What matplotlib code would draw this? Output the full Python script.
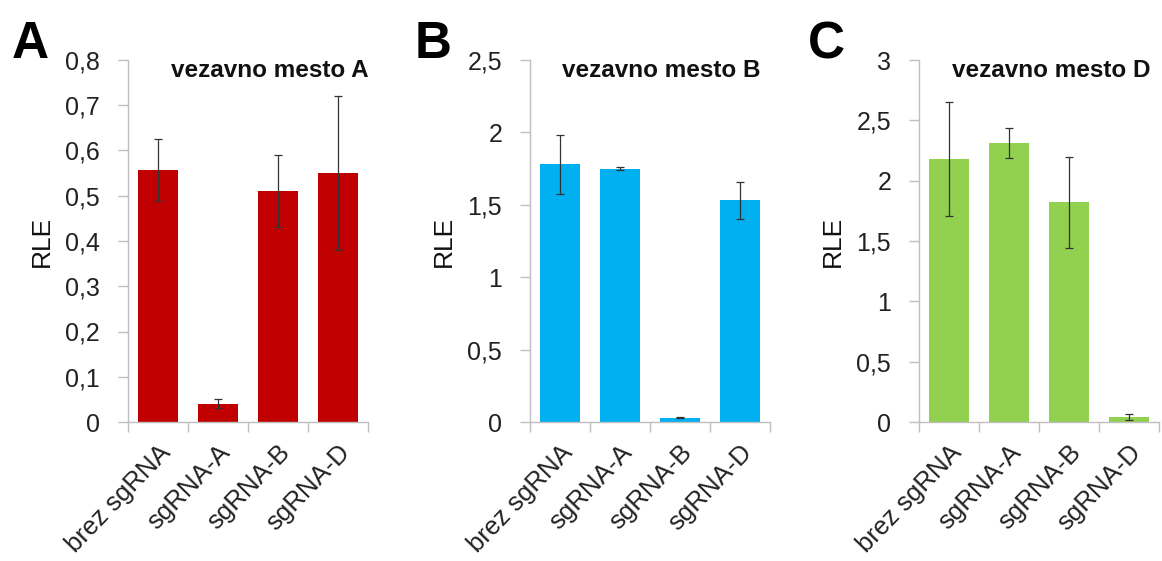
import matplotlib
matplotlib.use("Agg")
import matplotlib.pyplot as plt
import numpy as np

categories = ["brez sgRNA", "sgRNA-A", "sgRNA-B", "sgRNA-D"]
panel_letters = ["A", "B", "C"]
titles = ["vezavno mesto A", "vezavno mesto B", "vezavno mesto D"]

values_A = [0.557, 0.040, 0.510, 0.550]
errors_A = [0.068, 0.010, 0.080, 0.170]
values_B = [1.78, 1.75, 0.03, 1.53]
errors_B = [0.205, 0.010, 0.005, 0.125]
values_C = [2.18, 2.31, 1.82, 0.04]
errors_C = [0.475, 0.125, 0.375, 0.025]

ymax = [0.8, 2.5, 3.0]
ysteps = [0.1, 0.5, 0.5]
colors = ["#C00000", "#00B0F0", "#92D050"]

plt.rcParams['font.family'] = ['Liberation Sans', 'DejaVu Sans']

fig = plt.figure(figsize=(11.62, 5.61), dpi=100)
W, H = 1162, 561
lefts = [128 / W, 530 / W, 919 / W]
width = 240 / W
bottom = 1 - 422 / H
height = (422 - 60) / H
title_x = [0.59, 0.546, 0.55]
letter_x = [12, 415, 808]

data = [(values_A, errors_A), (values_B, errors_B), (values_C, errors_C)]
grey = "#BFBFBF"

def fmt(v):
    s = ("%.1f" % v).rstrip("0").rstrip(".")
    return s.replace(".", ",")

for i in range(3):
    ax = fig.add_axes([lefts[i], bottom, width, height])
    vals, errs = data[i]
    x = np.arange(len(categories))
    ax.bar(x, vals, width=0.66, color=colors[i], zorder=2)
    ax.errorbar(x, vals, yerr=errs, fmt="none", ecolor="#333333", elinewidth=0.9,
                capsize=3, capthick=0.9, zorder=3)
    ax.set_xlim(-0.5, len(categories) - 0.5)
    ax.set_ylim(0, ymax[i])
    ticks = np.arange(0, ymax[i] + 1e-9, ysteps[i])
    ax.set_yticks(ticks)
    ax.set_yticklabels([fmt(t) for t in ticks], fontsize=18, color="#222222")
    ax.set_xticks(x)
    ax.set_xticklabels(categories, rotation=46, ha="right", va="top",
                       rotation_mode="anchor", fontsize=18.5, color="#222222")
    ax.set_xticks(np.arange(-0.5, len(categories)), minor=True)
    ax.tick_params(axis="x", which="major", length=0, pad=13)
    ax.tick_params(axis="x", which="minor", length=7, color=grey, width=1)
    ax.tick_params(axis="y", length=7, color=grey, width=1, pad=13)
    for s in ["top", "right"]:
        ax.spines[s].set_visible(False)
    for s in ["left", "bottom"]:
        ax.spines[s].set_color(grey)
        ax.spines[s].set_linewidth(1)
    ax.set_ylabel("RLE", fontsize=19, color="#111111", labelpad=8)
    ax.text(title_x[i], 0.97, titles[i], transform=ax.transAxes, ha="center", va="center",
            fontsize=17.5, fontweight="bold", color="#111111")
    fig.text(letter_x[i] / W, 1 - 45 / H, panel_letters[i], fontsize=37,
             fontweight="bold", ha="left", va="center", color="black")

fig.savefig("out.png", dpi=100)
